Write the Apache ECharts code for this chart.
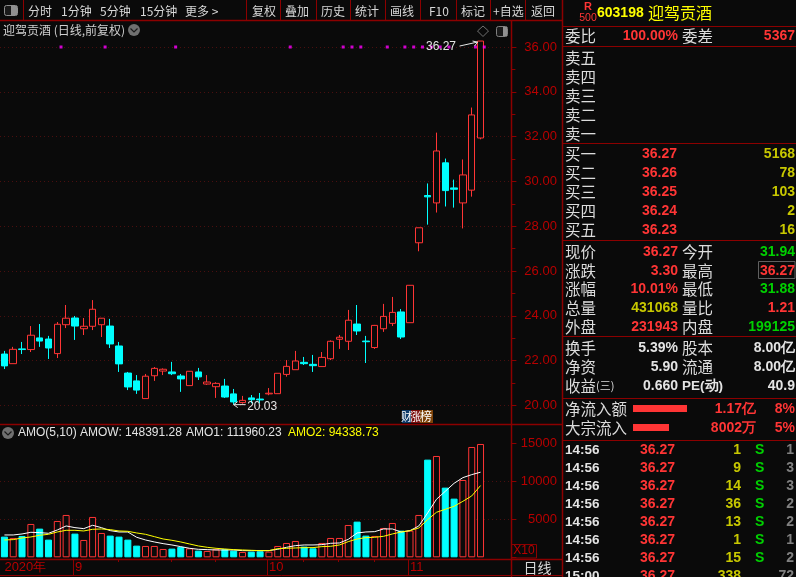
<!DOCTYPE html>
<html><head><meta charset="utf-8">
<style>html,body{margin:0;padding:0;background:#0a0a0a;overflow:hidden}#c{width:796px;height:577px}</style>
<script src="https://cdn.jsdelivr.net/npm/echarts@6/dist/echarts.min.js"></script>
</head><body><div id="c"></div>
<script>
const dates=['08-20','08-21','08-24','08-25','08-26','08-27','08-28','08-31','09-01','09-02','09-03','09-04','09-07','09-08','09-09','09-10','09-11','09-14','09-15','09-16','09-17','09-18','09-21','09-22','09-23','09-24','09-25','09-28','09-29','09-30','10-09','10-12','10-13','10-14','10-15','10-16','10-19','10-20','10-21','10-22','10-23','10-26','10-27','10-28','10-29','10-30','11-02','11-03','11-04','11-05','11-06','11-09','11-10','11-11','11-12','','',''];
const opens=[22.29,21.86,22.52,22.49,23.01,22.96,22.31,23.60,23.90,23.42,23.53,23.60,23.54,22.65,21.44,21.09,20.30,21.32,21.53,21.49,21.31,20.88,21.49,20.95,20.83,20.86,20.51,20.12,20.33,20.28,20.51,20.52,21.38,21.59,21.92,21.83,21.73,22.08,22.95,22.86,23.63,22.87,22.58,23.42,23.66,24.17,23.69,27.26,29.37,29.04,30.83,29.71,29.04,29.61,31.94];
const closes=[21.76,22.50,22.49,23.13,22.87,22.56,23.62,23.89,23.54,23.53,24.29,23.89,22.74,21.85,20.82,20.68,21.30,21.65,21.61,21.41,21.18,21.52,21.27,21.04,20.98,20.37,20.15,20.22,20.25,20.24,20.54,21.43,21.74,21.98,21.86,21.77,22.14,22.86,23.04,23.80,23.32,22.84,23.57,23.97,24.15,23.05,25.36,27.93,29.31,31.36,29.59,29.65,30.29,32.97,36.27];
const lows=[21.62,21.86,22.29,22.38,22.61,22.07,22.11,23.45,22.92,23.14,23.36,23.05,22.56,21.49,20.68,20.51,20.30,21.09,21.35,21.35,20.60,20.88,21.13,20.91,20.33,20.33,20.03,20.07,20.09,20.09,20.45,20.52,21.28,21.59,21.80,21.49,21.73,22.02,22.52,22.47,23.14,21.89,22.52,23.28,23.54,22.96,23.69,26.88,28.07,28.61,28.88,28.83,27.90,29.32,31.88];
const highs=[22.43,22.61,22.83,23.54,23.63,23.10,23.72,24.48,23.99,23.90,24.70,23.90,23.86,22.83,21.49,21.35,21.40,21.71,21.65,21.94,21.40,21.53,21.67,21.35,21.03,21.18,20.73,20.42,20.46,20.55,20.77,21.43,22.02,22.43,22.16,22.25,22.38,22.90,23.14,24.26,24.48,23.10,23.59,24.53,24.84,24.30,25.37,27.93,29.91,32.18,31.02,30.08,30.98,33.30,36.27];
const amounts=[2719,2544,2807,4386,3772,2325,4781,5570,3114,2281,5307,3202,2851,2719,2325,1535,1491,1491,1096,1140,1360,1184,877,833,1053,1053,877,702,746,789,746,1491,1886,2149,1403,1184,1886,2544,2544,4254,4693,2851,2807,3860,4518,3509,3509,5570,12851,13333,9167,7719,10175,14517,14912];
const amo1=[2939,2939,3070,3290,3246,3158,3597,4123,3904,3772,4211,3904,3509,3333,3333,2632,2281,2018,1798,1623,1404,1184,1053,1009,965,965,965,877,877,877,877,1053,1316,1535,1623,1623,1667,1842,1886,2368,3202,3333,3377,3728,3728,3333,3509,4123,5833,7632,8684,9737,10483,10877,11196];
const amo2=[2281,2325,2544,2675,2895,3026,3333,3553,3553,3465,3684,3728,3640,3465,3421,3202,3026,2719,2412,2237,2018,1754,1491,1316,1184,1096,1009,965,921,877,877,1140,1184,1228,1272,1272,1404,1447,1623,2061,2412,2588,2632,2763,3070,3333,3509,3860,4956,5921,6316,6711,7368,8070,9434];
const markerDays=[6,11,19,32,38,39,40,43,45,46,47,48,49,50,53,54];
const monthLabels={0:'2020年',8:'9',30:'10',46:'11'};
const weekTicks=[13,19,24,34,38,42];
const toolbarItems=['分时','1分钟','5分钟','15分钟','更多 >','复权','叠加','历史','统计','画线','F10','标记','+自选','返回'];
const sellLabels=['卖五','卖四','卖三','卖二','卖一'];
const buyLabels=['买一','买二','买三','买四','买五'];
const buyPrices=['36.27','36.26','36.25','36.24','36.23'];
const buyVolumes=['5168','78','103','2','16'];
const tickTimes=['14:56','14:56','14:56','14:56','14:56','14:56','14:56','15:00'];
const tickVolumes=['1','9','14','36','13','1','15','338'];
const tickSides=['S','S','S','S','S','S','S',''];
const tickOrders=['1','3','3','2','2','1','2','72'];

const RED='#ff3535',CYAN='#00ffff',BG='#0a0a0a',LINE='#8c0000',AXIS='#b80000',OLIVE='#c8c800',GREEN='#00d000',WHITE='#e4e4e4',YEL='#ffff00',DOT='#4a0f0f';
const SANS='"Liberation Sans",Arial,sans-serif',CJK='"Noto Sans CJK SC",sans-serif';
const rising=opens.map((o,i)=>closes[i]>=o);

const chart=echarts.init(document.getElementById('c'),null,{renderer:'canvas',width:796,height:577,devicePixelRatio:1});
chart.setOption({
 animation:false,backgroundColor:BG,
 grid:[{left:0,width:511.4,top:47.1,height:358.2},{left:0,width:511.4,top:443.3,height:114}],
 xAxis:[
  {type:'category',gridIndex:0,data:dates,show:false,boundaryGap:true},
  {type:'category',gridIndex:1,data:dates,boundaryGap:true,offset:2,
   axisLine:{show:false},axisTick:{show:false},
   axisLabel:{show:true,interval:i=>i in monthLabels,formatter:(v,i)=>monthLabels[i]||'',align:'left',color:AXIS,fontFamily:SANS,fontSize:13,margin:2,hideOverlap:false}}
 ],
 yAxis:[
  {type:'value',gridIndex:0,position:'right',min:20,max:36,interval:2,
   axisLine:{show:false},
   axisTick:{show:true,length:5,lineStyle:{color:LINE}},
   minorTick:{show:true,splitNumber:2,length:4,lineStyle:{color:LINE}},
   axisLabel:{color:AXIS,fontFamily:SANS,fontSize:13,align:'right',margin:45.5,formatter:v=>v.toFixed(2)},
   splitLine:{show:true,lineStyle:{color:DOT,type:[1,3],width:1}}},
  {type:'value',gridIndex:1,position:'right',min:0,max:15000,interval:5000,
   axisLine:{show:false},
   axisTick:{show:true,length:5,lineStyle:{color:LINE}},
   axisLabel:{color:AXIS,fontFamily:SANS,fontSize:13,align:'right',margin:45.5,formatter:v=>v?String(v):''},
   splitLine:{show:true,showMinLine:false,showMaxLine:false,lineStyle:{color:DOT,type:[1,3],width:1}}}
 ],
 series:[
  {type:'candlestick',xAxisIndex:0,yAxisIndex:0,barWidth:7,clip:false,
   itemStyle:{color:BG,color0:CYAN,borderColor:RED,borderColor0:CYAN,borderWidth:1},
   data:opens.map((o,i)=>[o,closes[i],lows[i],highs[i]])},
  {type:'scatter',xAxisIndex:0,yAxisIndex:0,symbol:'rect',symbolSize:3,symbolOffset:[3.7,-0.1],clip:false,z:5,
   itemStyle:{color:'#ff00ff'},data:markerDays.map(i=>[i,36])},
  {type:'bar',xAxisIndex:1,yAxisIndex:1,barWidth:7,
   data:amounts.map((v,i)=>({value:v,itemStyle:rising[i]?{color:BG,borderColor:RED,borderWidth:1}:{color:CYAN,borderColor:CYAN,borderWidth:1}}))},
  {type:'line',xAxisIndex:1,yAxisIndex:1,data:amo1,showSymbol:false,lineStyle:{color:'#ffffff',width:1}},
  {type:'line',xAxisIndex:1,yAxisIndex:1,data:amo2,showSymbol:false,lineStyle:{color:YEL,width:1}}
 ]
});

const g=[];
const font=(s,b,f)=>(b?'bold ':'')+s+'px '+(f||SANS);
function T(x,y,text,fill,size,align,bold,fam){g.push({type:'text',x:x,y:y,silent:true,z:50,style:{text:text,fill:fill,font:font(size,bold,fam),align:align||'left',verticalAlign:'middle',textAlign:align||'left',textVerticalAlign:'middle'}});}
function L(x1,y1,x2,y2,c,w){g.push({type:'line',silent:true,z:40,shape:{x1,y1,x2,y2},style:{stroke:c||LINE,lineWidth:w||1}});}
function R(x,y,w,h,fill,stroke,r){g.push({type:'rect',silent:true,z:41,shape:{x,y,width:w,height:h,r:r||0},style:{fill:fill||'none',stroke:stroke||'none',lineWidth:1}});}
const label=(x,y,t)=>T(x,y,t,'#dcdcdc',15.5,'left',false,CJK);
const VAL=14;

// frame lines
L(0,20.5,563,20.5,LINE,1.5);L(0,424.5,563,424.5,LINE,1.5);L(0,559.5,563,559.5,LINE,1.5);L(0,575.5,563,575.5,LINE,1);
L(511.5,20,511.5,577,LINE,1.5);L(562.5,0,562.5,577,LINE,1.5);
[23.5,246.5,280.5,316.5,350.5,385.5,420.5,456.5,490.5,525.5].forEach(x=>L(x,0,x,20,LINE,1));
[26.5,46.5,143.5,240.5,336.5,398.5,440.5].forEach(y=>L(563,y,796,y,LINE,1));
// date ticks anchored on the category axis
Object.keys(monthLabels).map(Number).filter(i=>i>0).forEach(i=>{const x=Math.round(chart.convertToPixel({xAxisIndex:1},i))-1.5;L(x,560,x,575,LINE,1);});
weekTicks.forEach(i=>{const x=Math.round(chart.convertToPixel({xAxisIndex:1},i))-0.5;L(x,560,x,562,LINE,1);});
// toolbar
R(4.5,5.5,13,10,'#1a1a1a','#909090',2);R(11,6,6,9,'#909090');
const tbX=[28,61,100,140,185,252,285,321,355,390,429,461,493,531];
toolbarItems.forEach((s,i)=>T(tbX[i],11,s,'#d8d8d8',12,'left',false,CJK));
// title
T(3,30,'迎驾贡酒 (日线,前复权)','#d0d0d0',12,'left',false,CJK);
g.push({type:'circle',silent:true,z:41,shape:{cx:134,cy:30,r:6},style:{fill:'#707070'}});
g.push({type:'polyline',silent:true,z:42,shape:{points:[[130.5,28.5],[134,32],[137.5,28.5]]},style:{stroke:'#1a1a1a',fill:'none',lineWidth:1.2}});
g.push({type:'polyline',silent:true,z:42,shape:{points:[[483,26],[488.5,31],[483,36.5],[477.5,31],[483,26]]},style:{stroke:'#707070',fill:'none',lineWidth:1}});
R(496.5,26.5,11,10,'#1a1a1a','#808080',2);R(503,27,4,9,'#909090');
// AMO legend
g.push({type:'circle',silent:true,z:41,shape:{cx:8,cy:433,r:6},style:{fill:'#707070'}});
g.push({type:'polyline',silent:true,z:42,shape:{points:[[4.5,431.5],[8,435],[11.5,431.5]]},style:{stroke:'#1a1a1a',fill:'none',lineWidth:1.2}});
T(18,433,'AMO(5,10)',WHITE,12);T(80,433,'AMOW: 148391.28',WHITE,12);T(186,433,'AMO1: 111960.23',WHITE,12);T(288,433,'AMO2: 94338.73',YEL,12);
// x10 box + period
R(511.5,544.5,25,13.5,'none',LINE);T(524,551,'X10',AXIS,12,'center');
T(537.5,567.5,'日线','#d8d8d8',14,'center',false,CJK);
// badge
R(402,410,9,13,'#0c3a6a');R(411,410,9,13,'#7a0c0c');R(420,410,13,13,'#7d4208');
T(406.5,416.5,'财','#fff',11,'center',false,CJK);T(415.5,416.5,'涨','#fff',11,'center',false,CJK);T(426,416.5,'榜','#fff',12,'center',false,CJK);
// annotations anchored on the data
const pHi=chart.convertToPixel({xAxisIndex:0,yAxisIndex:0},[54,highs[54]]);
const pLo=chart.convertToPixel({xAxisIndex:0,yAxisIndex:0},[26,lows[26]]);
T(pHi[0]-24.5,pHi[1]+6,'36.27',WHITE,12,'right');
L(pHi[0]-21,pHi[1]+5,pHi[0]-3,pHi[1]+1,WHITE,1);L(pHi[0]-3,pHi[1]+1,pHi[0]-8,pHi[1],WHITE,1);L(pHi[0]-3,pHi[1]+1,pHi[0]-6,pHi[1]+5,WHITE,1);
L(pLo[0],pLo[1],pLo[0]+12,pLo[1],WHITE,1);L(pLo[0],pLo[1],pLo[0]+4,pLo[1]-3,WHITE,1);L(pLo[0],pLo[1],pLo[0]+4,pLo[1]+3,WHITE,1);
T(pLo[0]+13.5,pLo[1]+2,'20.03',WHITE,12);
// right panel header
T(588,7,'R',RED,11,'center',true);T(588,18.5,'500',RED,10.5,'center');
T(597,13,'603198',YEL,14,'left',true);T(648,13,'迎驾贡酒',YEL,16,'left',false,CJK);
label(565,36,'委比');T(678,36,'100.00%',RED,VAL,'right',true);label(682,36,'委差');T(795,36,'5367',RED,VAL,'right',true);
sellLabels.forEach((s,i)=>label(565,[58,77,96,115,134][i],s));
buyLabels.forEach((s,i)=>{const y=154+i*19;label(565,y,s);T(677,y,buyPrices[i],RED,VAL,'right',true);T(795,y,buyVolumes[i],OLIVE,VAL,'right',true);});
const q=[['现价','36.27',RED,'今开','31.94',GREEN],['涨跌','3.30',RED,'最高','36.27',RED],['涨幅','10.01%',RED,'最低','31.88',GREEN],['总量','431068',OLIVE,'量比','1.21',RED],['外盘','231943',RED,'内盘','199125',GREEN]];
q.forEach((r,i)=>{const y=252+i*18.8;label(565,y,r[0]);T(678,y,r[1],r[2],VAL,'right',true);label(682,y,r[3]);T(795,y,r[4],r[5],VAL,'right',true);});
R(758.5,261.5,36.5,17,'none','#606060');
label(565,348,'换手');T(678,348,'5.39%',WHITE,VAL,'right',true);label(682,348,'股本');T(795,348,'8.00亿',WHITE,VAL,'right',true);
label(565,367,'净资');T(678,367,'5.90',WHITE,VAL,'right',true);label(682,367,'流通');T(795,367,'8.00亿',WHITE,VAL,'right',true);
T(565,386,'收益','#dcdcdc',15.5,'left',false,CJK);T(596,386,'(三)','#dcdcdc',11,'left',false,CJK);T(678,386,'0.660',WHITE,VAL,'right',true);T(682,386,'PE(动)',WHITE,13.5,'left',true);T(795,386,'40.9',WHITE,VAL,'right',true);
label(565,409,'净流入额');R(633,405,54,7,RED);T(756,409,'1.17亿',RED,VAL,'right',true);T(795,409,'8%',RED,VAL,'right',true);
label(565,428,'大宗流入');R(633,424,36,7,RED);T(756,428,'8002万',RED,VAL,'right',true);T(795,428,'5%',RED,VAL,'right',true);
tickTimes.forEach((t,i)=>{const y=450+i*18;T(565,y,t,WHITE,13.5,'left',true);T(675,y,'36.27',RED,VAL,'right',true);T(741,y,tickVolumes[i],OLIVE,VAL,'right',true);if(tickSides[i])T(755,y,tickSides[i],GREEN,VAL,'left',true);T(794,y,tickOrders[i],'#808080',VAL,'right',true);});
chart.setOption({graphic:g});
</script></body></html>
